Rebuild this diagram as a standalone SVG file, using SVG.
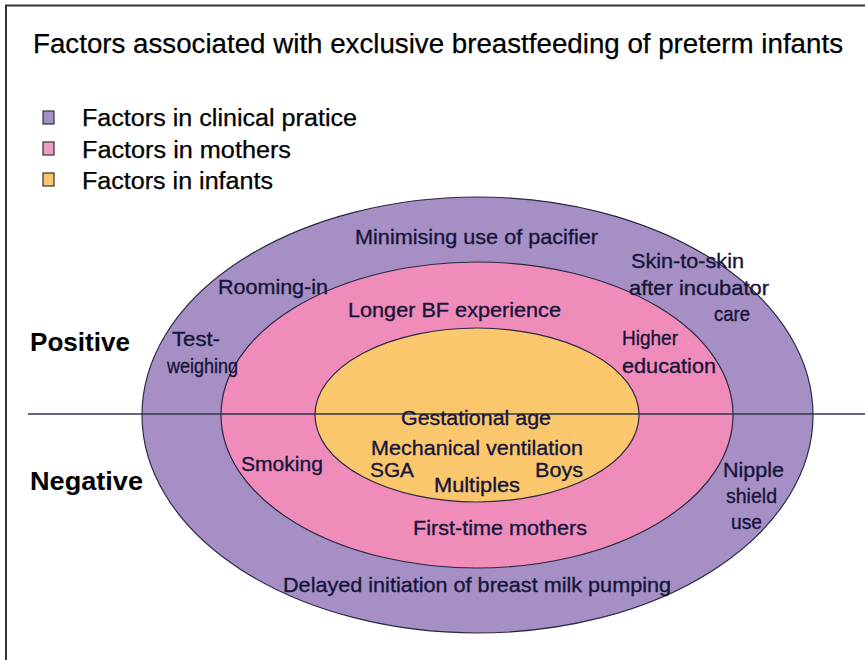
<svg xmlns="http://www.w3.org/2000/svg" width="865" height="660" viewBox="0 0 865 660">
<style>
.t{font-family:"Liberation Sans",Arial,sans-serif;fill:#000;stroke:#000;stroke-width:0.25;}
.lab{font-family:"Liberation Sans",Arial,sans-serif;font-size:21px;fill:#15153a;stroke:#15153a;stroke-width:0.35;}
.side{font-family:"Liberation Sans",Arial,sans-serif;font-size:25px;font-weight:bold;fill:#000;}
.ell{stroke:#2a2a44;stroke-width:1.2;}
.sq{stroke:#333;stroke-width:1.2;}
</style>
<rect x="0" y="0" width="865" height="660" fill="#fff"/>
<path d="M6,660 V5.5 H865" fill="none" stroke="#333" stroke-width="2"/>
<text class="t" x="33" y="53" font-size="27" textLength="810" lengthAdjust="spacingAndGlyphs">Factors associated with exclusive breastfeeding of preterm infants</text>
<g id="legend">
<rect class="sq" x="43" y="111" width="11" height="13" fill="#a48fc8"/>
<text class="t" x="82" y="126" font-size="23" textLength="275" lengthAdjust="spacingAndGlyphs">Factors in clinical pratice</text>
<rect class="sq" x="43" y="142" width="11" height="13" fill="#f29bc2"/>
<text class="t" x="82" y="158" font-size="23" textLength="209" lengthAdjust="spacingAndGlyphs">Factors in mothers</text>
<rect class="sq" x="43" y="173" width="11" height="13" fill="#fbc56e"/>
<text class="t" x="82" y="189" font-size="23" textLength="191" lengthAdjust="spacingAndGlyphs">Factors in infants</text>
</g>
<g id="clinical">
<ellipse class="ell" cx="477.5" cy="415" rx="335.5" ry="218" fill="#a58fc4"/>
</g>
<g id="mothers">
<ellipse class="ell" cx="477" cy="415" rx="256" ry="153" fill="#f08cba"/>
</g>
<g id="infants">
<ellipse class="ell" cx="477" cy="415" rx="162" ry="87" fill="#fbc76c"/>
</g>
<g id="connectors">
<line x1="28" y1="414" x2="865" y2="414" stroke="#33334a" stroke-width="1.5"/>
</g>
<g id="axis-labels">
<text class="side" x="30" y="351" textLength="100" lengthAdjust="spacingAndGlyphs">Positive</text>
<text class="side" x="30" y="490" textLength="113" lengthAdjust="spacingAndGlyphs">Negative</text>
</g>
<g id="clinical-labels">
<text class="lab" x="355" y="244" textLength="243" lengthAdjust="spacingAndGlyphs">Minimising use of pacifier</text>
<text class="lab" x="631" y="268" textLength="113" lengthAdjust="spacingAndGlyphs">Skin-to-skin</text>
<text class="lab" x="629" y="295" textLength="140" lengthAdjust="spacingAndGlyphs">after incubator</text>
<text class="lab" x="714" y="321" textLength="36" lengthAdjust="spacingAndGlyphs">care</text>
<text class="lab" x="218" y="294" textLength="110" lengthAdjust="spacingAndGlyphs">Rooming-in</text>
<text class="lab" x="172" y="346" textLength="48" lengthAdjust="spacingAndGlyphs">Test-</text>
<text class="lab" x="167" y="373" textLength="71" lengthAdjust="spacingAndGlyphs">weighing</text>
<text class="lab" x="723" y="477" textLength="61" lengthAdjust="spacingAndGlyphs">Nipple</text>
<text class="lab" x="726" y="503" textLength="51" lengthAdjust="spacingAndGlyphs">shield</text>
<text class="lab" x="731" y="529" textLength="31" lengthAdjust="spacingAndGlyphs">use</text>
<text class="lab" x="283" y="592" textLength="388" lengthAdjust="spacingAndGlyphs">Delayed initiation of breast milk pumping</text>
</g>
<g id="mother-labels">
<text class="lab" x="348" y="317" textLength="213" lengthAdjust="spacingAndGlyphs">Longer BF experience</text>
<text class="lab" x="622" y="345" textLength="56" lengthAdjust="spacingAndGlyphs">Higher</text>
<text class="lab" x="622" y="373" textLength="94" lengthAdjust="spacingAndGlyphs">education</text>
<text class="lab" x="241" y="471" textLength="82" lengthAdjust="spacingAndGlyphs">Smoking</text>
<text class="lab" x="413" y="535" textLength="174" lengthAdjust="spacingAndGlyphs">First-time mothers</text>
</g>
<g id="infant-labels">
<text class="lab" x="401" y="425" textLength="150" lengthAdjust="spacingAndGlyphs">Gestational age</text>
<text class="lab" x="371" y="455" textLength="212" lengthAdjust="spacingAndGlyphs">Mechanical ventilation</text>
<text class="lab" x="370" y="477" textLength="44" lengthAdjust="spacingAndGlyphs">SGA</text>
<text class="lab" x="535" y="477" textLength="48" lengthAdjust="spacingAndGlyphs">Boys</text>
<text class="lab" x="434" y="492" textLength="86" lengthAdjust="spacingAndGlyphs">Multiples</text>
</g>
</svg>
